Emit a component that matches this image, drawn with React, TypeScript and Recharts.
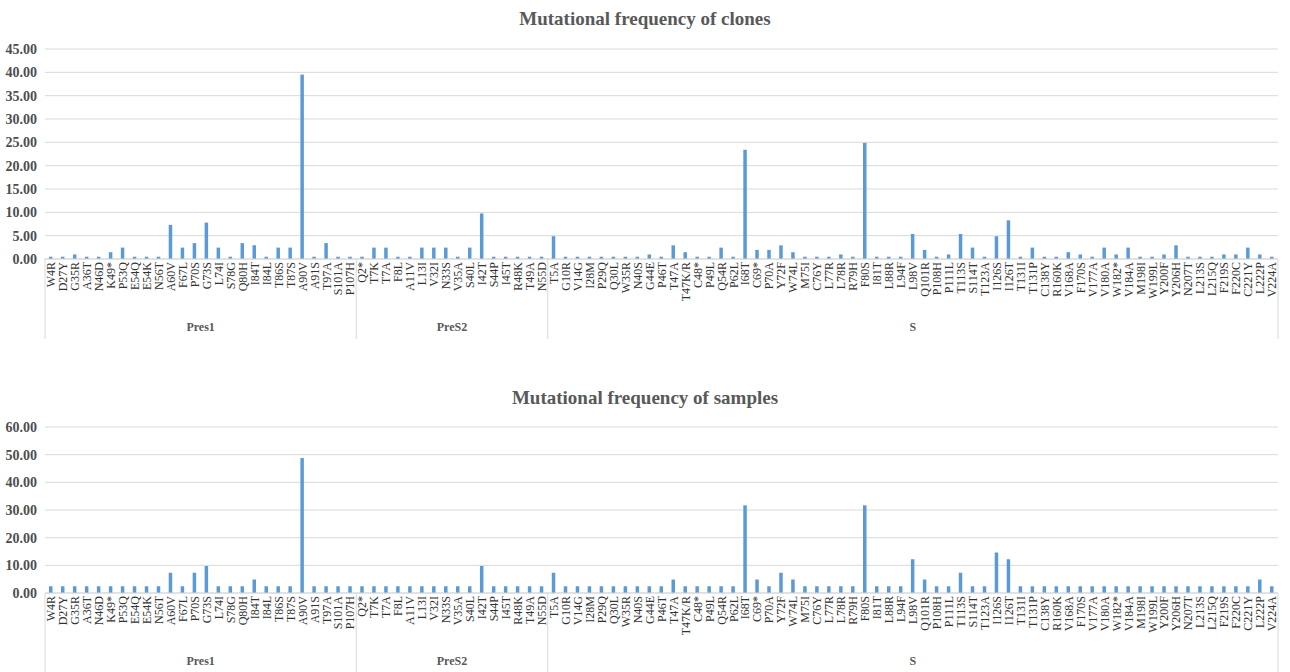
import React from "react";
import { BarChart, Bar, XAxis, YAxis, CartesianGrid } from "recharts";

const preS1Mutations = [
  "W4R", "D27Y", "G35R", "A36T", "N46D", "K49*", "P53Q", "E54Q", "E54K", "N56T",
  "A60V", "F67L", "P70S", "G73S", "L74I", "S78G", "Q80H", "I84T", "I84L", "T86S",
  "T87S", "A90V", "A91S", "T97A", "S101A", "P107H",
];
const preS2Mutations = [
  "Q2*", "T7K", "T7A", "F8L", "A11V", "L13I", "V32I", "N33S", "V35A", "S40L",
  "I42T", "S44P", "I45T", "R48K", "T49A", "N55D",
];
const sMutations = [
  "T5A", "G10R", "V14G", "I28M", "P29Q", "Q30L", "W35R", "N40S", "G44E", "P46T",
  "T47A", "T47K/R", "C48*", "P49L", "Q54R", "P62L", "I68T", "C69*", "P70A", "Y72F",
  "W74L", "M75I", "C76Y", "L77R", "L78R", "R79H", "F80S", "I81T", "L88R", "L94F",
  "L98V", "Q101R", "P108H", "P111L", "T113S", "S114T", "T123A", "I126S", "I126T", "T131I",
  "T131P", "C138Y", "R160K", "V168A", "F170S", "V177A", "V180A", "W182*", "V184A", "M198I",
  "W199L", "Y200F", "Y206H", "N207T", "L213S", "L215Q", "F219S", "F220C", "C221Y", "L222P",
  "V224A",
];

// Mutational frequency of clones (%)
const cloneFreq = [
  // Pres1
  0.49, 0.49, 0.98, 0.49, 0.49, 1.46, 2.44, 0.49, 0.49, 0.49,
  7.32, 2.44, 3.41, 7.8, 2.44, 0.49, 3.41, 2.93, 0.49, 2.44,
  2.44, 39.51, 0.49, 3.41, 0.49, 0.49,
  // PreS2
  0.49, 2.44, 2.44, 0.49, 0.49, 2.44, 2.44, 2.44, 0.49, 2.44,
  9.76, 0.49, 0.49, 0.49, 0.49, 0.49,
  // S
  4.88, 0.49, 0.49, 0.49, 0.49, 0.49, 0.49, 0.49, 0.98, 0.49,
  2.93, 1.46, 0.49, 0.49, 2.44, 0.49, 23.41, 1.95, 1.95, 2.93,
  1.46, 0.49, 0.49, 0.49, 0.98, 0.49, 24.88, 0.49, 0.49, 0.49,
  5.37, 1.95, 0.49, 0.98, 5.37, 2.44, 0.49, 4.88, 8.29, 0.49,
  2.44, 0.49, 0.49, 1.46, 0.98, 0.49, 2.44, 0.98, 2.44, 0.49,
  0.49, 0.98, 2.93, 0.49, 0.49, 0.49, 0.98, 0.98, 2.44, 0.98,
  0.49,
];

// Mutational frequency of samples (%)
const sampleFreq = [
  // Pres1
  2.44, 2.44, 2.44, 2.44, 2.44, 2.44, 2.44, 2.44, 2.44, 2.44,
  7.32, 2.44, 7.32, 9.76, 2.44, 2.44, 2.44, 4.88, 2.44, 2.44,
  2.44, 48.78, 2.44, 2.44, 2.44, 2.44,
  // PreS2
  2.44, 2.44, 2.44, 2.44, 2.44, 2.44, 2.44, 2.44, 2.44, 2.44,
  9.76, 2.44, 2.44, 2.44, 2.44, 2.44,
  // S
  7.32, 2.44, 2.44, 2.44, 2.44, 2.44, 2.44, 2.44, 2.44, 2.44,
  4.88, 2.44, 2.44, 2.44, 2.44, 2.44, 31.71, 4.88, 2.44, 7.32,
  4.88, 2.44, 2.44, 2.44, 2.44, 2.44, 31.71, 2.44, 2.44, 2.44,
  12.2, 4.88, 2.44, 2.44, 7.32, 2.44, 2.44, 14.63, 12.2, 2.44,
  2.44, 2.44, 2.44, 2.44, 2.44, 2.44, 2.44, 2.44, 2.44, 2.44,
  2.44, 2.44, 2.44, 2.44, 2.44, 2.44, 2.44, 2.44, 2.44, 4.88,
  2.44,
];

const cloneTicks = [0, 5, 10, 15, 20, 25, 30, 35, 40, 45];
const sampleTicks = [0, 10, 20, 30, 40, 50, 60];

const groups = [
  { name: "Pres1", items: preS1Mutations },
  { name: "PreS2", items: preS2Mutations },
  { name: "S", items: sMutations },
];

const rows: any[] = [];
groups.forEach((g) => {
  g.items.forEach((m, i) => {
    rows.push({
      mutation: m,
      group: g.name,
      groupStart: i === 0,
      groupSize: g.items.length,
      clones: cloneFreq[rows.length],
      samples: sampleFreq[rows.length],
    });
  });
});

const W = 1290;
const Y_W = 45;
const RIGHT = 12;
const BAND = (W - Y_W - RIGHT) / rows.length;
const FONT = '"Liberation Serif", "Times New Roman", serif';
const GRID = "#d9d9d9";
const BLUE = "#5B9BD5";

function MutationTick(props: any) {
  const { x, payload, axisY } = props;
  const row = rows[payload.index];
  const left = x - BAND / 2;
  return (
    <g>
      <text
        transform={`translate(${x},${axisY + 3}) rotate(-90)`}
        textAnchor="end"
        dy="0.35em"
        fontSize={12}
        fill="#333333"
        style={{ fontFamily: FONT }}
      >
        {payload.value}
      </text>
      {row.groupStart && (
        <>
          <line x1={left} x2={left} y1={axisY} y2={axisY + 80} stroke={GRID} />
          <text
            x={left + (row.groupSize * BAND) / 2}
            y={axisY + 72}
            textAnchor="middle"
            fontSize={12}
            fontWeight="bold"
            fill="#595959"
            style={{ fontFamily: FONT }}
          >
            {row.group}
          </text>
        </>
      )}
      {payload.index === rows.length - 1 && (
        <line x1={x + BAND / 2} x2={x + BAND / 2} y1={axisY} y2={axisY + 80} stroke={GRID} />
      )}
    </g>
  );
}

function FreqChart({ dataKey, ticks, height, top, axisH }: any) {
  const axisY = top + (height - top - axisH);
  return (
    <BarChart
      width={W}
      height={height}
      data={rows}
      margin={{ top, right: RIGHT, bottom: 0, left: 0 }}
      barCategoryGap={0}
      style={{ fontFamily: FONT }}
    >
      <CartesianGrid vertical={false} stroke={GRID} />
      <XAxis
        dataKey="mutation"
        interval={0}
        height={axisH}
        tickLine={false}
        axisLine={{ stroke: GRID }}
        tick={(p: any) => <MutationTick {...p} axisY={axisY} />}
      />
      <YAxis
        width={Y_W}
        domain={[0, ticks[ticks.length - 1]]}
        ticks={ticks}
        interval={0}
        axisLine={false}
        tickLine={false}
        tickFormatter={(v: number) => v.toFixed(2)}
        tick={{ fontSize: 14, fontWeight: "bold", fill: "#4d4d4d", style: { fontFamily: FONT } }}
      />
      <Bar dataKey={dataKey} fill={BLUE} barSize={3.5} isAnimationActive={false} />
    </BarChart>
  );
}

export default function App() {
  return (
    <div
      style={{
        position: "relative",
        width: W,
        height: 672,
        background: "#fff",
        overflow: "hidden",
        fontFamily: FONT,
      }}
    >
      <style>{`body{margin:0} .recharts-text{font-family:${FONT}}`}</style>
      <div style={{ position: "absolute", left: 0, top: 0 }}>
        <FreqChart dataKey="clones" ticks={cloneTicks} height={340} top={49} axisH={81} />
      </div>
      <div style={{ position: "absolute", left: 0, top: 340 }}>
        <FreqChart dataKey="samples" ticks={sampleTicks} height={332} top={87} axisH={79} />
      </div>
      <svg
        width={W}
        height={672}
        style={{ position: "absolute", left: 0, top: 0, pointerEvents: "none" }}
      >
        <text x={645} y={25} textAnchor="middle" fontSize={19} fontWeight="bold" fill="#595959" style={{ fontFamily: FONT }}>
          Mutational frequency of clones
        </text>
        <text x={645} y={404} textAnchor="middle" fontSize={19} fontWeight="bold" fill="#595959" style={{ fontFamily: FONT }}>
          Mutational frequency of samples
        </text>
      </svg>
    </div>
  );
}
